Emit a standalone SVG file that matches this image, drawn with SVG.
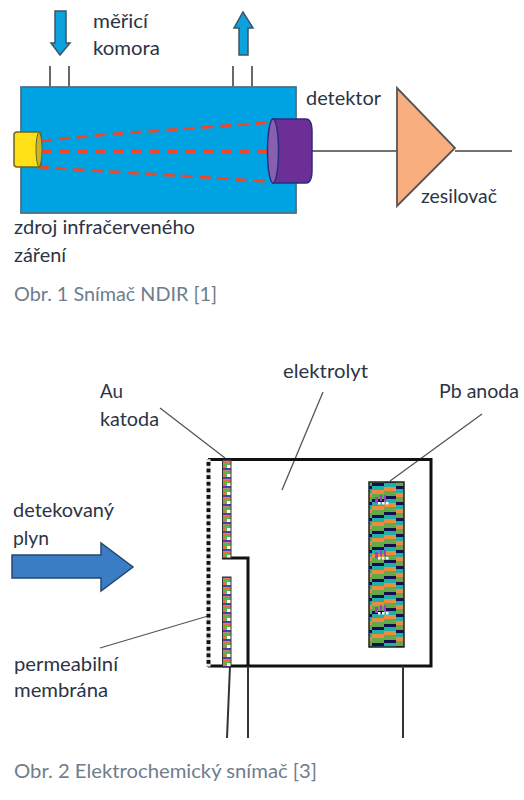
<svg xmlns="http://www.w3.org/2000/svg" width="524" height="800" viewBox="0 0 524 800">
<style>
text{font-family:"Lato","Open Sans","Liberation Sans",sans-serif;font-size:20px;fill:#2c3444}
.cap{fill:#6f7d8c}
.thin{fill:none;stroke:#444;stroke-width:1.6}
.lead{fill:none;stroke:#555;stroke-width:1.3}
.thick{fill:none;stroke:#111;stroke-width:3}
.ray{fill:none;stroke:#f0452a;stroke-width:2.800;stroke-dasharray:11 7}
.bl{fill:#0ea2dc;stroke:#3a5566;stroke-width:1.5}
.dot{fill:#fff}
.dotv{fill:#a040c0}
</style>
<defs>
<pattern id="au" width="9" height="9" patternUnits="userSpaceOnUse">
<rect width="9" height="9" fill="#fff"/>
<rect width="9" height="2.500" fill="#4a3fb0"/>
<rect y="2.500" width="9" height="1.500" fill="#ee6a3a"/>
<rect y="4" width="9" height="2" fill="#52bc48"/>
<rect y="6" width="2" height="3" fill="#52bc48"/>
<rect x="2" y="6" width="5" height="3" fill="#fff"/>
<rect x="7" y="6" width="2" height="3" fill="#ee6a3a"/>
</pattern>
<pattern id="pb" width="36" height="16" patternUnits="userSpaceOnUse">
<rect width="36" height="16" fill="#63a84a"/>
<rect y="6" width="12" height="3" fill="#14104e"/><rect y="9" width="12" height="4" fill="#1fb0a6"/><rect y="13" width="12" height="3" fill="#ee8a3e"/><rect y="0" width="12" height="1" fill="#ee8a3e"/>
<rect x="12" y="3" width="12" height="3" fill="#14104e"/><rect x="12" y="6" width="12" height="4" fill="#1fb0a6"/><rect x="12" y="10" width="12" height="4" fill="#ee8a3e"/>
<rect x="24" y="0" width="12" height="3" fill="#14104e"/><rect x="24" y="3" width="12" height="4" fill="#1fb0a6"/><rect x="24" y="7" width="12" height="4" fill="#ee8a3e"/>
</pattern>
<pattern id="mem" width="4" height="6.600" patternUnits="userSpaceOnUse">
<rect width="4" height="6.600" fill="#e4e4e4"/>
<rect width="4" height="3.800" fill="#111"/>
</pattern>
<g id="tecky">
<rect class="dotv" x="0" y="3" width="3" height="6"/>
<rect class="dot" x="3" y="8" width="2.500" height="2.500"/>
<rect class="dot" x="7" y="8" width="2.500" height="2.500"/>
<rect class="dot" x="11" y="8" width="2.500" height="2.500"/>
<rect class="dotv" x="5" y="1" width="2" height="6"/>
<rect class="dotv" x="9" y="1" width="2" height="6"/>
</g>
</defs>
<g id="connectors">
<path class="thin" d="M50 66V87M69 66V87M233 66V87M252 66V87"/>
<path class="thin" d="M312 151H397M455 151H512"/>
<path class="lead" d="M160 408L225 458M323 392L282 490M482 414L390 481M100 648L208 616"/>
</g>
<g id="komora">
<rect x="21" y="87" width="275" height="126" fill="#00a3e2" stroke="#52707f" stroke-width="1.800"/>
<path class="ray" d="M41 141C110 133 190 129 275 122"/>
<path class="ray" d="M41 151.500H275"/>
<path class="ray" d="M38 167C110 172 190 176 275 182"/>
</g>
<g id="vstup"><path class="bl" d="M55 11H66V43H70L60 55L51 43H55Z"/></g>
<g id="vystup"><path class="bl" d="M239 55H248V28H253L243 12L234 28H239Z"/></g>
<g id="zdroj">
<path d="M17 132H38Q41 132 41 135V164Q41 167 38 167H17Q14 167 14 164V135Q14 132 17 132Z" fill="#fde116" stroke="#6e6420" stroke-width="1.500"/>
<ellipse cx="39" cy="149.500" rx="3" ry="17" fill="#c7b42a" stroke="#6e6420"/>
</g>
<g id="detektor">
<path d="M273 119H306Q312 119 312 132V170Q312 183 306 183H273Z" fill="#6c2f96" stroke="#2c2c80" stroke-width="1.500"/>
<ellipse cx="273" cy="151" rx="5.500" ry="32" fill="#8a5fb0" stroke="#2c2c80" stroke-width="1.500"/>
</g>
<g id="zesilovac"><path d="M397 88L455 148L397 206Z" fill="#f9ae7f" stroke="#555" stroke-width="1.800"/></g>
<g id="popisky1">
<text x="93" y="28" textLength="55" lengthAdjust="spacingAndGlyphs">měřicí</text>
<text x="93" y="55" textLength="67" lengthAdjust="spacingAndGlyphs">komora</text>
<text x="306" y="105" textLength="75" lengthAdjust="spacingAndGlyphs">detektor</text>
<text x="421" y="203" textLength="76" lengthAdjust="spacingAndGlyphs">zesilovač</text>
<text x="14" y="234" textLength="181" lengthAdjust="spacingAndGlyphs">zdroj infračerveného</text>
<text x="14" y="262" textLength="52" lengthAdjust="spacingAndGlyphs">záření</text>
<text class="cap" x="14" y="301" textLength="203" lengthAdjust="spacingAndGlyphs">Obr. 1 Snímač NDIR [1]</text>
</g>
<g id="komurka">
<path class="thick" d="M208 459.500H431V666H208"/>
<path class="thick" stroke-width="2.500" d="M222 558H248V666"/>
<path fill="none" stroke="#333" stroke-width="2" d="M248 666V738M230 666L227 738M403 666V738"/>
<rect x="206.500" y="459" width="4" height="208" fill="url(#mem)"/>
</g>
<g id="katoda">
<rect x="222.500" y="460" width="8.500" height="98" fill="url(#au)" stroke="#333"/>
<rect x="222.500" y="577" width="8.500" height="90" fill="url(#au)" stroke="#333"/>
</g>
<g id="anoda">
<rect x="369" y="482" width="35" height="165" fill="url(#pb)" stroke="#222" stroke-width="1.500"/>
<use href="#tecky" x="375" y="494"/>
<use href="#tecky" x="375" y="549"/>
<use href="#tecky" x="375" y="604"/>
</g>
<g id="plyn"><path d="M12 555H101V543L133 567L101 591V578H12Z" fill="#3a7dc4" stroke="#24476f" stroke-width="1.500"/></g>
<g id="popisky2">
<text x="100" y="398" textLength="23" lengthAdjust="spacingAndGlyphs">Au</text>
<text x="100" y="426" textLength="59" lengthAdjust="spacingAndGlyphs">katoda</text>
<text x="283" y="378" textLength="85" lengthAdjust="spacingAndGlyphs">elektrolyt</text>
<text x="439" y="398" textLength="80" lengthAdjust="spacingAndGlyphs">Pb anoda</text>
<text x="13" y="517" textLength="101" lengthAdjust="spacingAndGlyphs">detekovaný</text>
<text x="13" y="545" textLength="36" lengthAdjust="spacingAndGlyphs">plyn</text>
<text x="14" y="671" textLength="104" lengthAdjust="spacingAndGlyphs">permeabilní</text>
<text x="14" y="697" textLength="94" lengthAdjust="spacingAndGlyphs">membrána</text>
<text class="cap" x="14" y="778" textLength="303" lengthAdjust="spacingAndGlyphs">Obr. 2 Elektrochemický snímač [3]</text>
</g>
</svg>
